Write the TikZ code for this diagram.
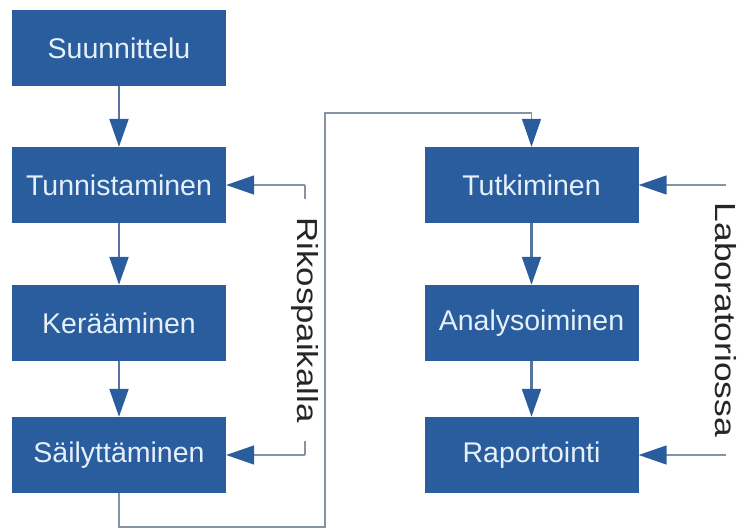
\documentclass[tikz,border=0pt]{standalone}
\usepackage{fontspec}
\usepackage{graphicx}
\setmainfont{Liberation Sans}
\usetikzlibrary{arrows.meta}

\definecolor{boxblue}{HTML}{2A5D9E}
\definecolor{boxtext}{HTML}{E6F0FA}
\definecolor{shaft}{HTML}{5575A0}
\definecolor{wire}{HTML}{8593A6}

\tikzset{
  stepbox/.style={rectangle, fill=boxblue, minimum width=214pt, minimum height=76pt,
    inner sep=0pt, text=boxtext, font=\fontsize{28.5}{30}\selectfont},
  wireline/.style={draw=wire, line width=1.6pt},
  wirearrow/.style={wireline, -{Triangle[width=19pt,length=28pt,fill=boxblue,color=boxblue]}},
  flow/.style={wirearrow, draw=shaft, line width=2.2pt},
  sidelabel/.style={rotate=-90, fill=white, inner xsep=18pt, inner ysep=2pt,
    text=black!85, font=\fontsize{29}{31}\selectfont}
}

\begin{document}
\begin{tikzpicture}[x=1pt, y=-1pt]
  \useasboundingbox (0,0) rectangle (747,529);

  % left column: work at the scene
  \node[stepbox] (suu) at (119,48)  {Suunnittelu};
  \node[stepbox] (tun) at (119,185) {Tunnistaminen};
  \node[stepbox] (ker) at (119,323) {Kerääminen};
  \node[stepbox] (sai) at (119,455) {Säilyttäminen};

  % right column: work in the laboratory
  \node[stepbox] (tut) at (531.5,185) {Tutkiminen};
  \node[stepbox] (ana) at (531.5,323) {Analysoiminen};
  \node[stepbox] (rap) at (531.5,455) {Raportointi};

  % sequence arrows
  \draw[flow] (suu) -- (tun);
  \draw[flow] (tun) -- (ker);
  \draw[flow] (ker) -- (sai);
  \draw[flow] (tut) -- (ana);
  \draw[flow] (ana) -- (rap);

  % hand-over from the scene to the laboratory
  \coordinate (d1) at (119,527);
  \coordinate (d2) at (325,527);
  \coordinate (d3) at (325,113);
  \coordinate (d4) at (531.5,113);
  \draw[wireline] (sai.south) -- (d1) -- (d2) -- (d3) -- (d4);
  \draw[wirearrow] (d4) -- (tut.north);

  % bracket "Rikospaikalla"
  \coordinate (r1) at (305,185);
  \coordinate (r2) at (305,455);
  \draw[wireline] (r1) -- node[sidelabel] (rlab) {\scalebox{1.2}[1]{Rikospaikalla}} (r2);
  \draw[wirearrow] (r1) -- (tun.east);
  \draw[wirearrow] (r2) -- (sai.east);

  % bracket "Laboratoriossa"
  \coordinate (l1) at (726,185);
  \coordinate (l2) at (726,455);
  \draw[wireline] (l1) -- node[sidelabel] (llab) {\scalebox{1.22}[1]{Laboratoriossa}} (l2);
  \draw[wirearrow] (l1) -- (tut.east);
  \draw[wirearrow] (l2) -- (rap.east);
\end{tikzpicture}
\end{document}
